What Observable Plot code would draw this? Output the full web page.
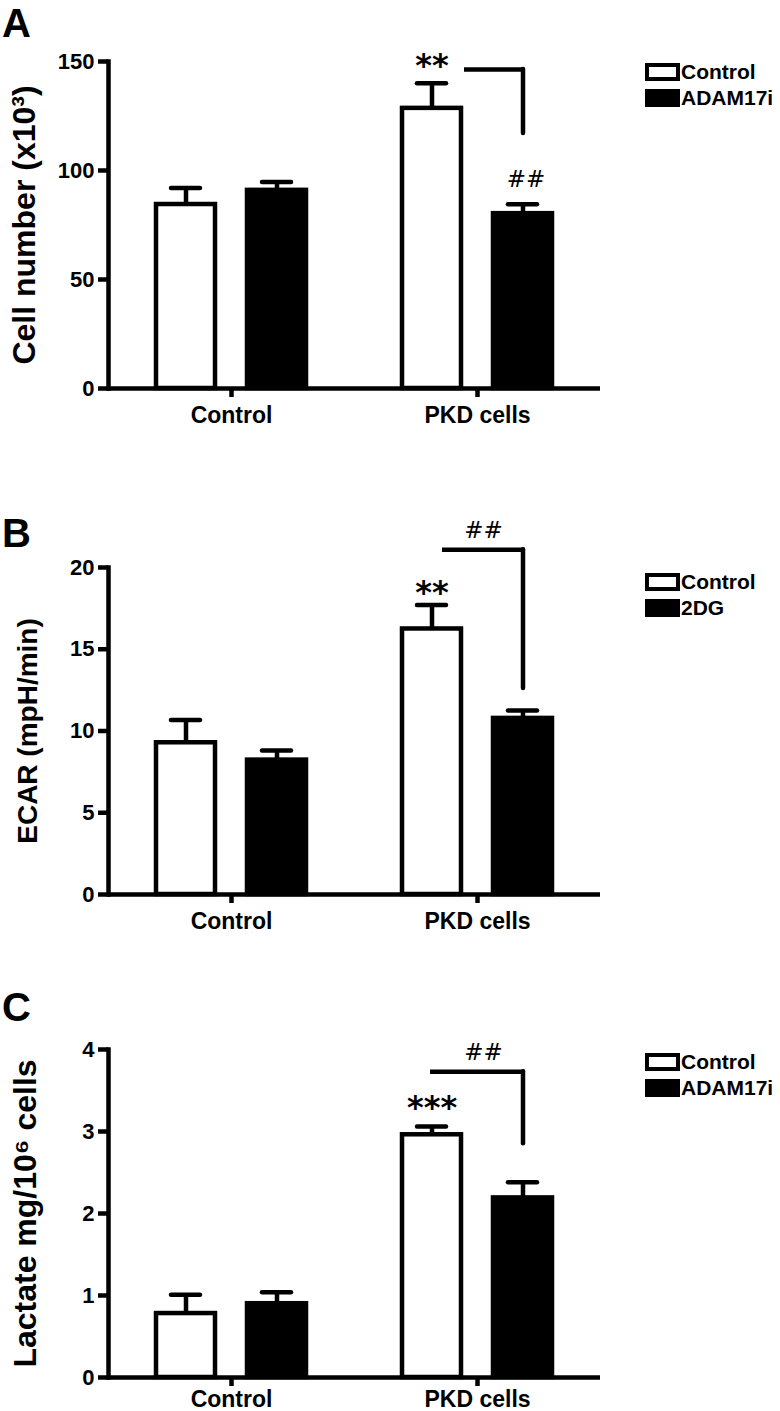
<!DOCTYPE html>
<html><head><meta charset="utf-8">
<script src="https://cdn.jsdelivr.net/npm/d3@7"></script>
<script src="https://cdn.jsdelivr.net/npm/@observablehq/plot@0.6"></script>
<style>
body{margin:0;background:#fff;}
#wrap{position:relative;width:780px;height:1411px;overflow:hidden;font-family:"Liberation Sans",Arial,sans-serif;color:#000;}
.panel{position:absolute;left:0;}
.letter{position:absolute;font-weight:bold;font-size:40px;line-height:0.75;}
.lbox{position:absolute;box-sizing:border-box;border:4px solid #000;width:35px;height:18px;}
.ltext{position:absolute;font-weight:bold;font-size:21px;line-height:1;white-space:nowrap;}
g[aria-label="stars"] text{letter-spacing:3px;}
</style></head><body><div id="wrap"></div>
<script>
// ---------- data ----------
const groups = ["Control", "PKD cells"];

// Panel A: cell number (x10^3)
const treatA = ["Control", "ADAM17i"];
const cellControlMean = [84.4, 128.5];
const cellControlSem = [7.6, 11.5];
const cellADAMMean = [90.9, 80.2];
const cellADAMSem = [3.8, 4.3];
const ticksA = [0, 50, 100, 150];

// Panel B: ECAR (mpH/min)
const treatB = ["Control", "2DG"];
const ecarControlMean = [9.28, 16.24];
const ecarControlSem = [1.4, 1.47];
const ecar2DGMean = [8.22, 10.77];
const ecar2DGSem = [0.59, 0.48];
const ticksB = [0, 5, 10, 15, 20];

// Panel C: lactate mg/10^6 cells
const treatC = ["Control", "ADAM17i"];
const lactControlMean = [0.78, 2.96];
const lactControlSem = [0.23, 0.10];
const lactADAMMean = [0.90, 2.19];
const lactADAMSem = [0.14, 0.19];
const ticksC = [0, 1, 2, 3, 4];

// annotations
const starsA = [{group: "PKD cells", treatment: "Control", y: 143.5, label: "**"}];
const starsB = [{group: "PKD cells", treatment: "Control", y: 17.85, label: "**"}];
const starsC = [{group: "PKD cells", treatment: "Control", y: 3.16, label: "***"}];
const hashA = [{group: "PKD cells", treatment: "ADAM17i", y: 92.3, label: "##"}];
const hashB = [{group: "PKD cells", y: 21.8, label: "##"}];
const hashC = [{group: "PKD cells", y: 3.87, label: "##"}];
const bracketA = [{group: "PKD cells", from: "Control", to: "ADAM17i", yTop: 146.3, yBottom: 117}];
const bracketB = [{group: "PKD cells", from: "Control", to: "2DG", yTop: 21.09, yBottom: 12.6}];
const bracketC = [{group: "PKD cells", from: "Control", to: "ADAM17i", yTop: 3.73, yBottom: 2.85}];

// ---------- drawing ----------
const SW = 4.5;
const wrap = document.getElementById("wrap");

function makePanel(cfg) {
  const rows = [];
  groups.forEach((g, i) => {
    cfg.treat.forEach((t, j) => rows.push({group: g, treatment: t, mean: cfg.means[j][i], sem: cfg.sems[j][i]}));
  });
  const hashMarks = cfg.hash[0].treatment
    ? Plot.text(cfg.hash, {fx: "group", x: "treatment", y: "y", text: "label", lineAnchor: "bottom", fontFamily: "DejaVu Sans", fontSize: 23, dx: 3})
    : Plot.text(cfg.hash, {fx: "group", y: "y", text: "label", frameAnchor: "middle", lineAnchor: "bottom", fontFamily: "DejaVu Sans", fontSize: 23, dx: 6});
  const chart = Plot.plot({
    width: 780,
    height: cfg.height,
    marginTop: cfg.mt,
    marginBottom: cfg.mb,
    marginLeft: 108,
    marginRight: 180,
    style: {fontFamily: "Liberation Sans, Arial, sans-serif", color: "black", background: "white", overflow: "visible"},
    fx: {domain: groups, padding: 0},
    x: {domain: cfg.treat, paddingInner: 0.348, paddingOuter: 0.511, axis: null},
    y: {domain: cfg.domain},
    color: {domain: cfg.treat, range: ["white", "black"]},
    marks: [
      Plot.barY(rows, {fx: "group", x: "treatment", y: "mean", fill: "treatment", stroke: "black", strokeWidth: SW}),
      Plot.ruleX(rows, {fx: "group", x: "treatment", y1: "mean", y2: d => d.mean + d.sem, stroke: "black", strokeWidth: SW}),
      Plot.tickY(rows, {fx: "group", x: "treatment", y: d => d.mean + d.sem, stroke: "black", strokeWidth: SW, insetLeft: 15, insetRight: 15, strokeLinecap: "round"}),
      Plot.ruleY([0], {stroke: "black", strokeWidth: SW}),
      Plot.frame({anchor: "left", facetAnchor: "left", stroke: "black", strokeWidth: SW}),
      Plot.axisY({ticks: cfg.ticks, tickFormat: d => String(d), tickSize: 10, tickPadding: 4, strokeWidth: SW, fontSize: 22, fontWeight: "bold", label: null}),
      Plot.axisFx({anchor: "bottom", tickSize: 9, tickPadding: cfg.fxPad, strokeWidth: SW, fontSize: 23, fontWeight: "bold", label: null}),
      Plot.text([cfg.yLabel], {fx: [groups[0]], frameAnchor: "left", rotate: -90, dx: -cfg.labelOffset, lineAnchor: "top", textAnchor: "middle", fontSize: cfg.labelSize, fontWeight: "bold"}),
      Plot.ruleY(cfg.bracket, {fx: "group", x1: "from", x2: "to", y: "yTop", stroke: "black", strokeWidth: SW, insetLeft: cfg.bracketInset, insetRight: 27.75}),
      Plot.ruleX(cfg.bracket, {fx: "group", x: "to", y1: "yBottom", y2: "yTop", stroke: "black", strokeWidth: SW, strokeLinecap: "round"}),
      Plot.text(cfg.stars, {fx: "group", x: "treatment", y: "y", text: "label", lineAnchor: "bottom", fontFamily: "DejaVu Sans", fontWeight: "bold", fontSize: 32, ariaLabel: "stars"}),
      hashMarks
    ]
  });
  const div = document.createElement("div");
  div.className = "panel";
  div.style.top = cfg.top + "px";
  div.appendChild(chart);
  wrap.appendChild(div);

  const letter = document.createElement("div");
  letter.className = "letter";
  letter.textContent = cfg.letter;
  letter.style.left = "2px";
  letter.style.top = cfg.letterTop + "px";
  wrap.appendChild(letter);

  cfg.treat.forEach((t, i) => {
    const y = cfg.legendTop + i * 26;
    const box = document.createElement("div");
    box.className = "lbox";
    box.style.left = "645px";
    box.style.top = y + "px";
    box.style.background = i === 0 ? "white" : "black";
    wrap.appendChild(box);
    const txt = document.createElement("div");
    txt.className = "ltext";
    txt.textContent = t;
    txt.style.left = "681px";
    txt.style.top = (y - 1.8) + "px";
    wrap.appendChild(txt);
  });
}

makePanel({
  letter: "A", letterTop: 7.8, legendTop: 63,
  top: 0, height: 470, mt: 61, mb: 82, fxPad: 9,
  treat: treatA, means: [cellControlMean, cellADAMMean], sems: [cellControlSem, cellADAMSem],
  domain: [0, 150], ticks: ticksA,
  yLabel: "Cell number (x10³)", labelSize: 32, labelOffset: 96,
  stars: starsA, hash: hashA, bracket: bracketA, bracketInset: 62
});
makePanel({
  letter: "B", letterTop: 517.6, legendTop: 573,
  top: 470, height: 470, mt: 97, mb: 46, fxPad: 9,
  treat: treatB, means: [ecarControlMean, ecar2DGMean], sems: [ecarControlSem, ecar2DGSem],
  domain: [0, 20], ticks: ticksB,
  yLabel: "ECAR (mpH/min)", labelSize: 28, labelOffset: 91,
  stars: starsB, hash: hashB, bracket: bracketB, bracketInset: 40
});
makePanel({
  letter: "C", letterTop: 991.6, legendTop: 1053,
  top: 940, height: 471, mt: 109, mb: 34, fxPad: 4,
  treat: treatC, means: [lactControlMean, lactADAMMean], sems: [lactControlSem, lactADAMSem],
  domain: [0, 4], ticks: ticksC,
  yLabel: "Lactate mg/10⁶ cells", labelSize: 32, labelOffset: 95,
  stars: starsC, hash: hashC, bracket: bracketC, bracketInset: 28
});
</script></body></html>
